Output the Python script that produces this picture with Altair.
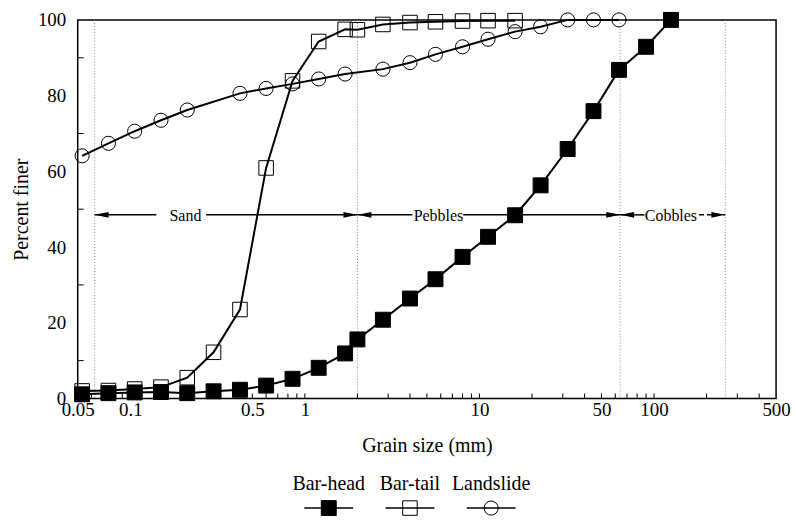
import altair as alt
import pandas as pd

# ---------------- data ----------------
series_names = ["Bar-head", "Bar-tail", "Landslide"]

head_size = [0.053, 0.075, 0.106, 0.15, 0.212, 0.3, 0.425, 0.6, 0.85, 1.2, 1.7, 2.0,
             2.8, 4.0, 5.6, 8.0, 11.2, 16, 22.4, 32, 45, 63, 90, 125]
head_pct = [1.1, 1.4, 1.6, 1.7, 1.4, 1.9, 2.3, 3.4, 5.2, 8.1, 11.9, 15.6,
            20.8, 26.4, 31.5, 37.4, 42.7, 48.4, 56.3, 65.9, 75.9, 86.8, 92.9, 100]

tail_size = [0.053, 0.075, 0.106, 0.15, 0.212, 0.3, 0.425, 0.6, 0.85, 1.2, 1.7, 2.0,
             2.8, 4.0, 5.6, 8.0, 11.2, 16]
tail_pct = [2.0, 2.1, 2.5, 3.0, 5.5, 12.2, 23.5, 60.9, 83.9, 94.3, 97.5, 97.4,
            98.8, 99.3, 99.5, 99.7, 99.8, 99.8]

land_size = [0.053, 0.075, 0.106, 0.15, 0.212, 0.425, 0.6, 0.85, 1.2, 1.7,
             2.8, 4.0, 5.6, 8.0, 11.2, 16, 22.4, 32, 45, 63]
land_pct = [64.1, 67.4, 70.6, 73.5, 76.2, 80.6, 81.9, 83.1, 84.4, 85.7,
            87.0, 88.7, 90.9, 92.9, 94.9, 96.9, 98.2, 100, 100, 100]

x_tick_values = [0.05, 0.1, 0.5, 1, 10, 50, 100, 500]
y_tick_values = [0, 20, 40, 60, 80, 100]
y_minor_ticks = [10, 30, 50, 70, 90]
x_minor_ticks = [0.06, 0.07, 0.08, 0.09, 0.1, 0.2, 0.3, 0.4, 0.5, 0.6, 0.7, 0.8, 0.9, 1,
                 2, 3, 4, 5, 6, 7, 8, 9, 10, 20, 30, 40, 50, 60, 70, 80, 90, 100,
                 200, 300, 400]

# size-class boundaries (mm) and annotation
boundaries = [0.0625, 2, 64, 256]
arrow_pct = 48.5
seg_start = [0.0625, 0.272, 2, 8.08, 64]
seg_end = [0.141, 2, 4.13, 64, 88.3]
dash_seg_start = [181]
dash_seg_end = [256]
left_tips = [0.0625, 2, 64]
right_tips = [2, 64, 256]
class_labels = ["Sand", "Pebbles", "Cobbles"]
class_label_x = [0.207, 5.82, 125]

# ---------------- tables ----------------
rows = []
for name, xs, ys in [("Bar-head", head_size, head_pct),
                     ("Bar-tail", tail_size, tail_pct),
                     ("Landslide", land_size, land_pct)]:
    for i, (a, b) in enumerate(zip(xs, ys)):
        rows.append({"series": name, "size": a, "pct": b, "order": i})
df = pd.DataFrame(rows)

df_bound = pd.DataFrame({"b": boundaries})
df_seg = pd.DataFrame({"x": seg_start, "x2": seg_end, "y": arrow_pct})
df_dseg = pd.DataFrame({"x": dash_seg_start, "x2": dash_seg_end, "y": arrow_pct})
df_lt = pd.DataFrame({"x": left_tips, "y": arrow_pct})
df_rt = pd.DataFrame({"x": right_tips, "y": arrow_pct})
df_lab = pd.DataFrame({"x": class_label_x, "y": arrow_pct, "t": class_labels})
df_ym = pd.DataFrame({"v": y_minor_ticks})
df_xm = pd.DataFrame({"v": x_minor_ticks})
df_leg = pd.DataFrame({"series": series_names})

FONT = "Liberation Serif"

xscale = alt.Scale(type="log", domain=[0.05, 500], nice=False)
yscale = alt.Scale(domain=[0, 100], nice=False)

X = alt.X("size:Q", scale=xscale, title="Grain size (mm)",
          axis=alt.Axis(values=x_tick_values, format="~g", ticks=False, grid=False,
                        domain=False, labelPadding=2, titlePadding=16,
                        labelFlush=False))
Y = alt.Y("pct:Q", scale=yscale, title="Percent finer",
          axis=alt.Axis(values=y_tick_values, ticks=False, grid=False, domain=False,
                        labelPadding=12, titlePadding=6))

shape_scale = alt.Scale(domain=series_names, range=["square", "square", "circle"])
fill_scale = alt.Scale(domain=series_names, range=["black", "transparent", "transparent"])
size_scale = alt.Scale(domain=series_names, range=[225, 200, 80])

bounds = alt.Chart(df_bound).mark_rule(color="#888888", strokeWidth=1,
                                       strokeDash=[1, 2]).encode(
    x=alt.X("b:Q", scale=xscale))

segs = alt.Chart(df_seg).mark_rule(color="black", strokeWidth=1.5).encode(
    x=alt.X("x:Q", scale=xscale), x2="x2:Q", y=alt.Y("y:Q", scale=yscale))
dsegs = alt.Chart(df_dseg).mark_rule(color="black", strokeWidth=1.5,
                                     strokeDash=[5, 3]).encode(
    x=alt.X("x:Q", scale=xscale), x2="x2:Q", y=alt.Y("y:Q", scale=yscale))

ltips = alt.Chart(df_lt).mark_point(shape="M0,0L2,-0.4L2,0.4Z", size=196, filled=True,
                                    color="black", opacity=1).encode(
    x=alt.X("x:Q", scale=xscale), y=alt.Y("y:Q", scale=yscale))
rtips = alt.Chart(df_rt).mark_point(shape="M0,0L-2,-0.4L-2,0.4Z", size=196, filled=True,
                                    color="black", opacity=1).encode(
    x=alt.X("x:Q", scale=xscale), y=alt.Y("y:Q", scale=yscale))

labels = alt.Chart(df_lab).mark_text(font=FONT, fontSize=16, color="black",
                                     align="center", baseline="middle", dy=1).encode(
    x=alt.X("x:Q", scale=xscale), y=alt.Y("y:Q", scale=yscale), text="t:N")

yminor = alt.Chart(df_ym).mark_rule(color="black", strokeWidth=1).encode(
    y=alt.Y("v:Q", scale=yscale), x=alt.value(0), x2=alt.value(6))
xminor = alt.Chart(df_xm).mark_rule(color="black", strokeWidth=1).encode(
    x=alt.X("v:Q", scale=xscale), y=alt.value(380), y2=alt.value(375))

lines = alt.Chart(df).mark_line(color="black", strokeWidth=2).encode(
    x=X, y=Y, detail="series:N", order="order:Q")

points = alt.Chart(df).mark_point(filled=True, stroke="black", strokeWidth=1,
                                  opacity=1).encode(
    x=alt.X("size:Q", scale=xscale),
    y=alt.Y("pct:Q", scale=yscale),
    shape=alt.Shape("series:N", scale=shape_scale, legend=None),
    fill=alt.Fill("series:N", scale=fill_scale, legend=None),
    size=alt.Size("series:N", scale=size_scale, legend=None),
)

main = alt.layer(bounds, yminor, xminor, segs, dsegs, ltips, rtips, labels,
                 lines, points).properties(
    width=701, height=380,
    view=alt.ViewBackground(stroke="black", strokeWidth=1.5),
)

# ---------------- legend below ----------------
leg_x = alt.X("series:N", scale=alt.Scale(type="point", domain=series_names,
                                          range=[252, 415], padding=0),
              axis=None)
leg_text = alt.Chart(df_leg).mark_text(font=FONT, fontSize=20, color="black",
                                       align="center", baseline="alphabetic").encode(
    x=leg_x, y=alt.value(13), text="series:N")
leg_line = alt.Chart(df_leg).mark_tick(orient="horizontal", size=49, thickness=1.5,
                                       color="black", opacity=1).encode(
    x=leg_x, y=alt.value(31))
leg_pts = alt.Chart(df_leg).mark_point(filled=True, stroke="black", strokeWidth=1,
                                       opacity=1).encode(
    x=leg_x, y=alt.value(31),
    shape=alt.Shape("series:N", scale=shape_scale, legend=None),
    fill=alt.Fill("series:N", scale=fill_scale, legend=None),
    size=alt.Size("series:N", scale=size_scale, legend=None),
)
legend = alt.layer(leg_text, leg_line, leg_pts).properties(
    width=701, height=40,
    view=alt.ViewBackground(strokeOpacity=0),
)

chart = alt.vconcat(main, legend, spacing=18).properties(
    padding={"left": 10, "top": 8, "right": 5, "bottom": 2},
    background="white",
).resolve_scale(shape="shared", fill="shared", size="shared").configure_axis(
    labelFont=FONT, labelFontSize=19, labelColor="black",
    titleFont=FONT, titleFontSize=20, titleFontWeight="normal", titleColor="black",
)

chart.save("out.html", embed_options={"renderer": "svg", "actions": False})
